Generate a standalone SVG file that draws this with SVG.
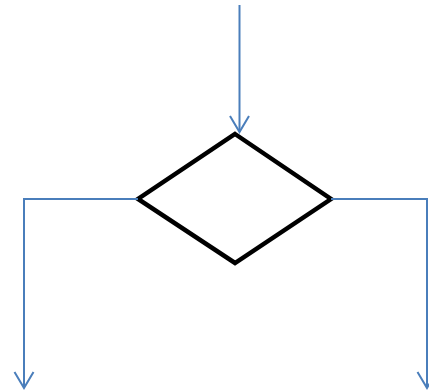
<svg xmlns="http://www.w3.org/2000/svg" width="429" height="391" viewBox="0 0 429 391">
<style>
.conn{fill:none;stroke:#4A7EBB;stroke-width:2}
.head{fill:none;stroke:#4A7EBB;stroke-width:2}
.dec{fill:none;stroke:#000;stroke-width:4.5;stroke-linejoin:miter}
</style>
<rect width="429" height="391" fill="#fff"/>
<g id="decision">
<polygon class="dec" points="235,134 331,199 235,263 138,199"/>
</g>
<g id="connectors">
<path class="conn" d="M239.5,5 V132"/>
<path class="head" d="M230,116 L239.5,132 L249,116"/>
<path class="conn" d="M138,199 H24 V388"/>
<path class="head" d="M14.5,372 L24,388 L33.5,372"/>
<path class="conn" d="M331,199 H427 V388"/>
<path class="head" d="M417.5,372 L427,388 L436.5,372"/>
</g>
</svg>
